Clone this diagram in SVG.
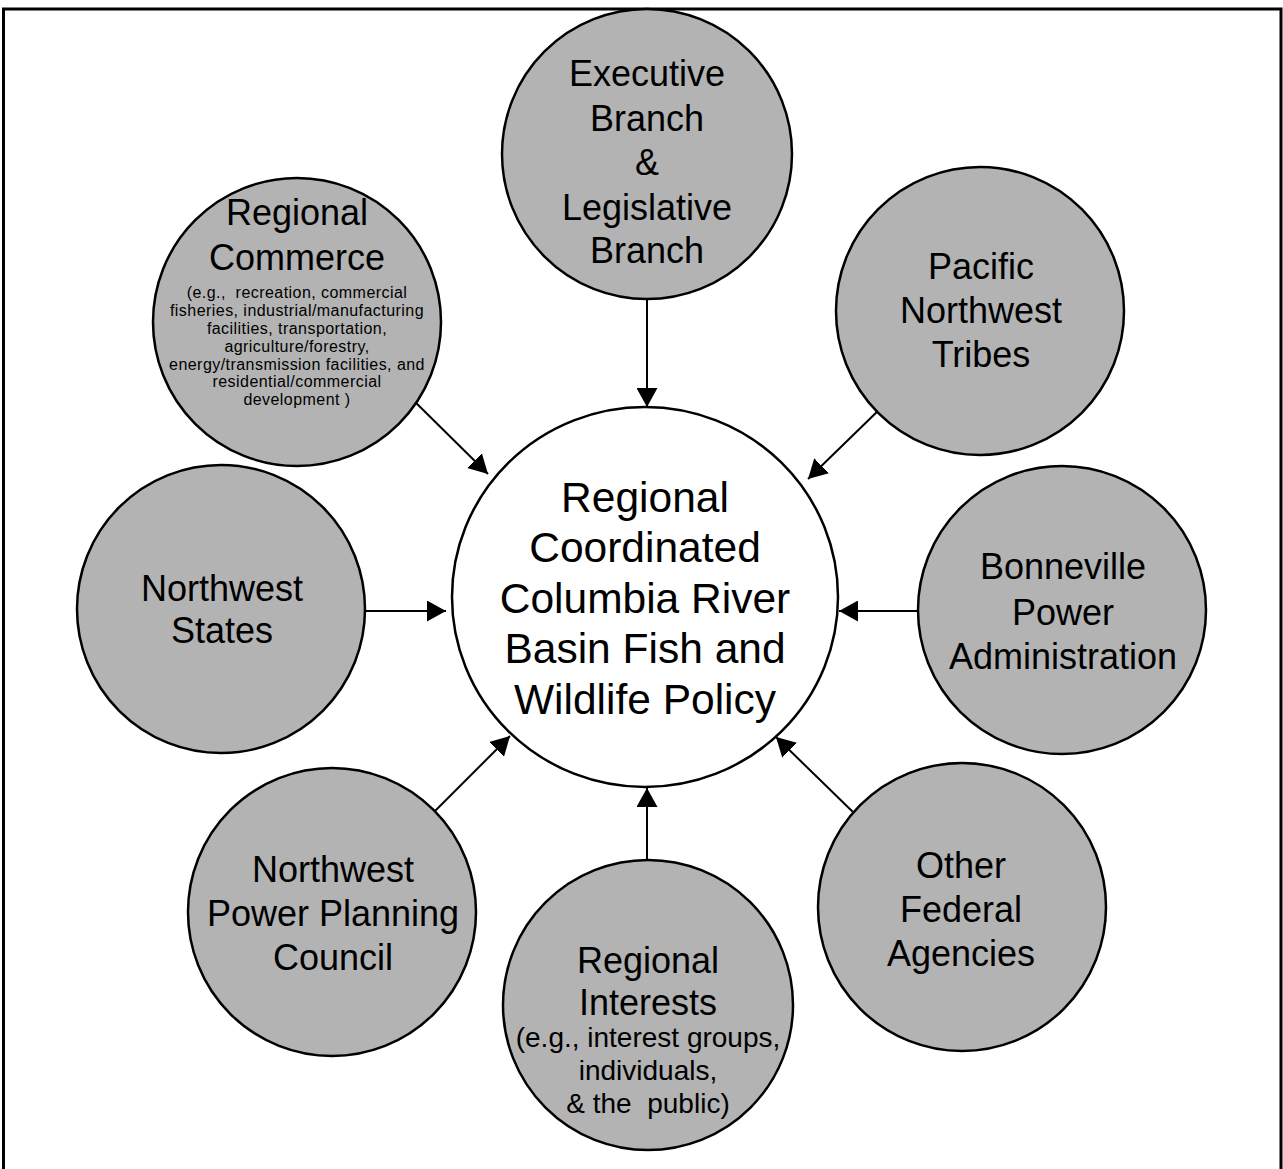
<svg xmlns="http://www.w3.org/2000/svg" width="1283" height="1169" viewBox="0 0 1283 1169">
<style>
.node{fill:#b3b3b3;stroke:#000;stroke-width:2.5}
.center{fill:#fff;stroke:#000;stroke-width:2.5}
text{font-family:"Liberation Sans",Arial,sans-serif;fill:#000;text-anchor:middle}
.big{font-size:36px}
.huge{font-size:42.5px}
.small{font-size:16px;letter-spacing:0.45px}
.mid{font-size:28px}
.conn line{stroke:#000;stroke-width:2;marker-end:url(#arr)}
.frame{stroke:#000;stroke-width:3;fill:none}
</style>
<defs>
<marker id="arr" viewBox="0 0 19 21" refX="19" refY="10.5" markerWidth="19" markerHeight="21" markerUnits="userSpaceOnUse" orient="auto">
<path d="M0,0 L19,10.5 L0,21 z" fill="#000"/>
</marker>
</defs>
<rect width="1283" height="1169" fill="#fff"/>
<path class="frame" d="M3.5,1169 L3.5,9 L1281,9 L1281,1169"/>

<g id="connectors" class="conn">
<line x1="647" y1="299" x2="647" y2="407"/>
<line x1="407" y1="394" x2="488" y2="474"/>
<line x1="882" y1="407" x2="808" y2="479"/>
<line x1="365" y1="611" x2="446" y2="611"/>
<line x1="918" y1="611" x2="839" y2="611"/>
<line x1="433" y1="813" x2="510" y2="736"/>
<line x1="647" y1="884" x2="647" y2="788"/>
<line x1="855" y1="814" x2="776" y2="737"/>
</g>

<g id="node-center">
<ellipse class="center" cx="645" cy="597" rx="193" ry="190"/>
<text class="huge" x="645" y="512">Regional</text>
<text class="huge" x="645" y="562">Coordinated</text>
<text class="huge" x="645" y="613">Columbia River</text>
<text class="huge" x="645" y="663">Basin Fish and</text>
<text class="huge" x="645" y="714">Wildlife Policy</text>
</g>

<g id="node-executive">
<circle class="node" cx="647" cy="154" r="145"/>
<text class="big" x="647" y="86">Executive</text>
<text class="big" x="647" y="131">Branch</text>
<text class="big" x="647" y="175">&amp;</text>
<text class="big" x="647" y="220">Legislative</text>
<text class="big" x="647" y="263">Branch</text>
</g>

<g id="node-commerce">
<circle class="node" cx="297" cy="322" r="144"/>
<text class="big" x="297" y="225">Regional</text>
<text class="big" x="297" y="270">Commerce</text>
<text class="small" x="297" y="298" xml:space="preserve">(e.g.,  recreation, commercial</text>
<text class="small" x="297" y="316">fisheries, industrial/manufacturing</text>
<text class="small" x="297" y="334">facilities, transportation,</text>
<text class="small" x="297" y="352">agriculture/forestry,</text>
<text class="small" x="297" y="370">energy/transmission facilities, and</text>
<text class="small" x="297" y="387">residential/commercial</text>
<text class="small" x="297" y="405">development )</text>
</g>

<g id="node-tribes">
<circle class="node" cx="980" cy="311" r="144"/>
<text class="big" x="981" y="279">Pacific</text>
<text class="big" x="981" y="323">Northwest</text>
<text class="big" x="981" y="367">Tribes</text>
</g>

<g id="node-states">
<circle class="node" cx="221" cy="609" r="144"/>
<text class="big" x="222" y="601">Northwest</text>
<text class="big" x="222" y="643">States</text>
</g>

<g id="node-bonneville">
<circle class="node" cx="1062" cy="610" r="144"/>
<text class="big" x="1063" y="579">Bonneville</text>
<text class="big" x="1063" y="625">Power</text>
<text class="big" x="1063" y="669">Administration</text>
</g>

<g id="node-council">
<circle class="node" cx="332" cy="912" r="144"/>
<text class="big" x="333" y="882">Northwest</text>
<text class="big" x="333" y="926">Power Planning</text>
<text class="big" x="333" y="970">Council</text>
</g>

<g id="node-interests">
<circle class="node" cx="648" cy="1005" r="145"/>
<text class="big" x="648" y="973">Regional</text>
<text class="big" x="648" y="1015">Interests</text>
<text class="mid" x="648" y="1047">(e.g., interest groups,</text>
<text class="mid" x="648" y="1080">individuals,</text>
<text class="mid" x="648" y="1113" xml:space="preserve">&amp; the  public)</text>
</g>

<g id="node-federal">
<circle class="node" cx="962" cy="907" r="144"/>
<text class="big" x="961" y="878">Other</text>
<text class="big" x="961" y="922">Federal</text>
<text class="big" x="961" y="966">Agencies</text>
</g>
</svg>
